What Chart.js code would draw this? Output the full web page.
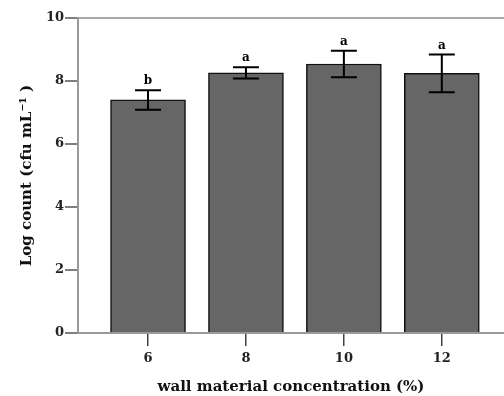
<!DOCTYPE html>
<html><head><meta charset="utf-8">
<script src="https://cdn.jsdelivr.net/npm/chart.js@4"></script>
<style>html,body{margin:0;padding:0;background:#fff}#wrap{width:504px;height:396px}</style>
</head><body><div id="wrap"><canvas id="c" width="504" height="396"></canvas></div>
<script>
const categories = [6, 8, 10, 12];
const tickLabels = ['6', '8', '10', '12'];
const means = [7.40, 8.26, 8.54, 8.24];
const errors = [0.31, 0.18, 0.42, 0.60];
const letters = ['b', 'a', 'a', 'a'];
const yTicks = [0, 2, 4, 6, 8, 10];

const serif = '"DejaVu Serif", "Liberation Serif", serif';

const errPlugin = {
  id: 'errs',
  afterDatasetsDraw(chart) {
    const ctx = chart.ctx, xs = chart.scales.x, ys = chart.scales.y;
    ctx.save();
    ctx.strokeStyle = '#000';
    ctx.lineWidth = 2;
    categories.forEach((c, i) => {
      const x = xs.getPixelForValue(c);
      const yt = ys.getPixelForValue(means[i] + errors[i]);
      const yb = ys.getPixelForValue(means[i] - errors[i]);
      ctx.beginPath();
      ctx.moveTo(x, yt); ctx.lineTo(x, yb);
      ctx.moveTo(x - 13, yt); ctx.lineTo(x + 13, yt);
      ctx.moveTo(x - 13, yb); ctx.lineTo(x + 13, yb);
      ctx.stroke();
      ctx.fillStyle = '#000';
      ctx.font = 'bold 12px ' + serif;
      ctx.textAlign = 'center';
      ctx.textBaseline = 'bottom';
      ctx.fillText(letters[i], x, yt - 3);
    });
    ctx.restore();
  }
};

new Chart(document.getElementById('c'), {
  type: 'bar',
  data: {
    datasets: [{
      data: categories.map((c, i) => ({x: c, y: means[i]})),
      backgroundColor: '#666666',
      borderColor: '#111111',
      borderWidth: 1.5,
      barThickness: 75
    }]
  },
  options: {
    responsive: false,
    animation: false,
    layout: {padding: {top: 18, right: 0, left: 0, bottom: 0}},
    plugins: {legend: {display: false}, tooltip: {enabled: false}},
    scales: {
      x: {
        type: 'linear',
        offset: false,
        min: 4.57, max: 13.27,
        afterBuildTicks(s) { s.ticks = categories.map(v => ({value: v})); },
        afterFit(s) { s.height = 63; },
        grid: {display: true, offset: false, drawOnChartArea: false, tickLength: 13, tickColor: '#444', lineWidth: 1.5},
        border: {color: '#999', width: 2},
        ticks: {
          padding: 5,
          color: '#222',
          font: {family: serif, size: 13, weight: 'bold'},
          callback(v) { const i = categories.indexOf(v); return i >= 0 ? tickLabels[i] : ''; }
        },
        title: {display: true, text: 'wall material concentration (%)', color: '#111',
          font: {family: serif, size: 15, weight: 'bold'}, padding: {top: 4, bottom: 0}}
      },
      y: {
        min: 0, max: 10,
        afterBuildTicks(s) { s.ticks = yTicks.map(v => ({value: v})); },
        afterFit(s) { s.width = 78; },
        grid: {
          drawOnChartArea: true,
          color: (c) => (c.tick && c.tick.value === 10) ? '#aaa' : 'rgba(0,0,0,0)',
          lineWidth: 2,
          tickLength: 13, tickColor: '#555', tickWidth: 1.5
        },
        border: {color: '#999', width: 2},
        ticks: {padding: 1, color: '#222', font: {family: serif, size: 13, weight: 'bold'}},
        title: {display: true, text: 'Log count (cfu mL\u207B\u00B9 )', color: '#111',
          font: {family: serif, size: 15, weight: 'bold'}, padding: {top: 18, bottom: 4}}
      }
    }
  },
  plugins: [errPlugin]
});
</script>
</body></html>
